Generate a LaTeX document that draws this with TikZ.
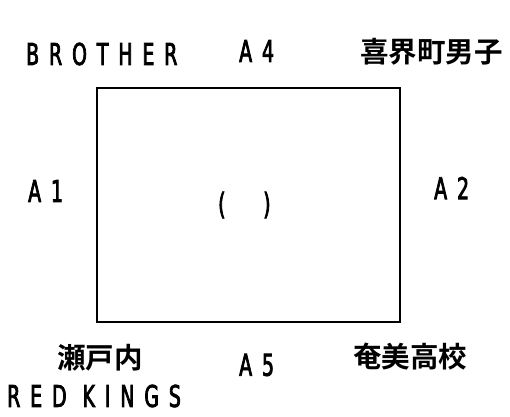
\documentclass[tikz,border=0pt]{standalone}
\usepackage{fontspec}
\newfontfamily\lat[FakeStretch=0.63,FakeBold=2.5,LetterSpace=33]{DejaVu Sans}
\newfontfamily\cjk{Noto Sans CJK JP}[BoldFont={Noto Sans CJK JP Bold}]
\begin{document}
\begin{tikzpicture}[x=1pt,y=1pt,
  lab/.style={inner sep=0pt,anchor=west,font=\lat\fontsize{30}{30}\selectfont},
  jlab/.style={inner sep=0pt,anchor=west,font=\cjk\bfseries\fontsize{28.5}{28.5}\selectfont}]
\useasboundingbox (0,0) rectangle (510,416);
\node[draw,line width=2pt,minimum width=303pt,minimum height=234pt,inner sep=0pt] (box) at (248.5,211) {};
\node[lab] (brother) at (26,362) {BROTHER};
\node[lab] (a4) at (239,365) {A4};
\node[jlab] (kikai) at (360,364) {喜界町男子};
\node[lab] (a1) at (28,225) {A1};
\node[lab] (a2) at (434,228) {A2};
\node[lab] (pl) at (218,211) {(};
\node[lab] (pr) at (263,211) {)};
\node[jlab] (seto) at (57,58) {瀬戸内};
\node[lab] (a5) at (239,51) {A5};
\node[jlab] (amami) at (353,59) {奄美高校};
\node[lab] (red) at (7,20) {RED KINGS};
\end{tikzpicture}
\end{document}
